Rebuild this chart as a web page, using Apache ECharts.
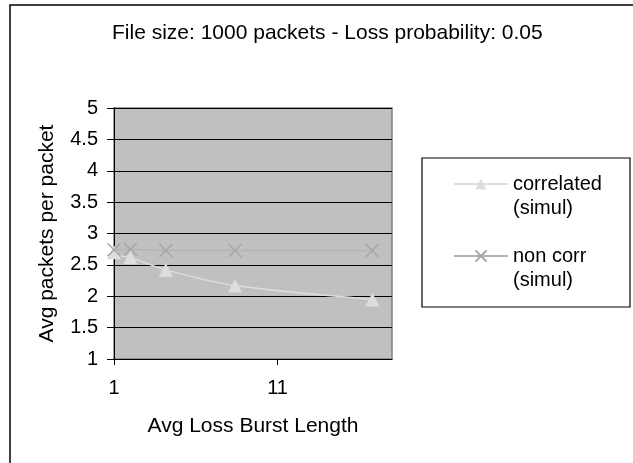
<!DOCTYPE html>
<html>
<head>
<meta charset="utf-8">
<script src="https://cdn.jsdelivr.net/npm/echarts@6/dist/echarts.min.js"></script>
<style>
html,body{margin:0;padding:0;background:#fff;}
#chart{width:633px;height:463px;}
</style>
</head>
<body>
<div id="chart"></div>
<script>
// ---- data ----
const titleText = 'File size: 1000 packets - Loss probability: 0.05';
const xAxisTitle = 'Avg Loss Burst Length';
const yAxisTitle = 'Avg packets per packet';
const seriesNames = ['correlated\n(simul)', 'non corr\n(simul)'];
const burstLength = [1, 2, 4.17, 8.4, 16.8];
const correlatedVals = [2.7, 2.62, 2.42, 2.17, 1.95];
const nonCorrVals = [2.74, 2.75, 2.73, 2.73, 2.73];
// clipped leading point of the correlated curve (left of the axis)
const correlatedLead = [0.57, 3.32];
const xTickValues = [1, 11];
const xMin = 1, xMax = 18;
const yMin = 1, yMax = 5, yStep = 0.5;

const FONT = 'Liberation Sans, Arial, sans-serif';

const corrData = [{ value: correlatedLead, symbol: 'none', symbolSize: 0 }]
  .concat(burstLength.map((x, i) => [x, correlatedVals[i]]));
const nonCorrData = burstLength.map((x, i) => [x, nonCorrVals[i]]);

const chart = echarts.init(document.getElementById('chart'), null, { renderer: 'canvas' });
chart.setOption({
  animation: false,
  backgroundColor: '#ffffff',
  textStyle: { fontFamily: FONT },
  title: {
    text: titleText,
    left: 112,
    top: 23,
    padding: 0,
    textStyle: { fontFamily: FONT, fontSize: 21, fontWeight: 'normal', color: '#000' }
  },
  graphic: [
    { type: 'rect', z: -10, silent: true,
      shape: { x: 10, y: 5, width: 640, height: 470 },
      style: { fill: 'none', stroke: '#000', lineWidth: 1.5 } },
    { type: 'rect', z: 10, silent: true,
      shape: { x: 422, y: 158, width: 208, height: 149 },
      style: { fill: 'none', stroke: '#000', lineWidth: 1.2 } }
  ],
  grid: {
    left: 114, right: 241, top: 108, bottom: 104,
    show: true, backgroundColor: '#C0C0C0', borderColor: '#808080', borderWidth: 1.5,
    containLabel: false
  },
  legend: {
    orient: 'vertical',
    left: 453,
    top: 148,
    padding: 0,
    itemGap: 0,
    itemWidth: 54,
    itemHeight: 14,
    data: seriesNames,
    selectedMode: false,
    formatter: name => '\n' + name,
    textStyle: { fontFamily: FONT, fontSize: 20, color: '#000', lineHeight: 24 }
  },
  xAxis: {
    type: 'value',
    min: xMin, max: xMax, interval: 10,
    name: xAxisTitle,
    nameLocation: 'middle',
    nameGap: 57,
    nameTextStyle: { fontFamily: FONT, fontSize: 21, color: '#000' },
    axisLine: { show: true, onZero: false, lineStyle: { color: '#000', width: 1 } },
    axisTick: { show: true, length: 6, customValues: xTickValues, lineStyle: { color: '#000' } },
    axisLabel: { customValues: xTickValues, margin: 19, fontFamily: FONT, fontSize: 20, color: '#000' },
    splitLine: { show: false }
  },
  yAxis: {
    type: 'value',
    min: yMin, max: yMax, interval: yStep,
    name: yAxisTitle,
    nameLocation: 'middle',
    nameGap: 56,
    nameRotate: 90,
    nameTextStyle: { fontFamily: FONT, fontSize: 21, color: '#000' },
    axisLine: { show: true, lineStyle: { color: '#000', width: 1 } },
    axisTick: { show: true, length: 7, lineStyle: { color: '#000' } },
    axisLabel: { margin: 16, fontFamily: FONT, fontSize: 20, color: '#000' },
    splitLine: { show: true, lineStyle: { color: '#000', width: 1 } }
  },
  series: [
    {
      name: seriesNames[0],
      type: 'line',
      data: corrData,
      clip: false,
      smooth: 0.3,
      symbol: 'triangle',
      symbolSize: 14,
      lineStyle: { color: '#DEDEDE', width: 1.5 },
      itemStyle: { color: '#DDDDDD' },
      z: 3
    },
    {
      name: seriesNames[1],
      type: 'line',
      data: nonCorrData,
      clip: false,
      symbol: 'path://M0,0L10,10M10,0L0,10',
      symbolSize: 13,
      lineStyle: { color: '#B4B4B4', width: 1.5 },
      itemStyle: { color: 'rgba(0,0,0,0)', borderColor: '#A6A6A6', borderWidth: 1.5 },
      z: 4
    }
  ]
});
</script>
</body>
</html>
